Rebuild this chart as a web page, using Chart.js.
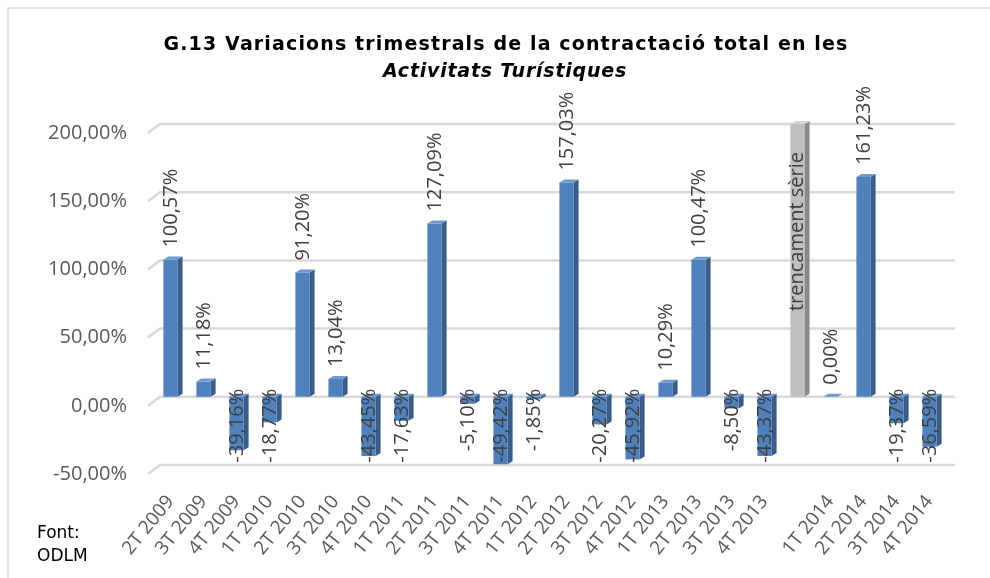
<!DOCTYPE html>
<html>
<head>
<meta charset="utf-8">
<script src="https://cdn.jsdelivr.net/npm/chart.js@4"></script>
<style>
  html, body { margin: 0; padding: 0; background: #fff; }
</style>
</head>
<body>
<canvas id="myChart" width="990" height="578"></canvas>
<script>
const trimestres = ['2T 2009', '3T 2009', '4T 2009', '1T 2010', '2T 2010', '3T 2010', '4T 2010',
  '1T 2011', '2T 2011', '3T 2011', '4T 2011', '1T 2012', '2T 2012', '3T 2012', '4T 2012',
  '1T 2013', '2T 2013', '3T 2013', '4T 2013', '', '1T 2014', '2T 2014', '3T 2014', '4T 2014'];
const variacions = [100.57, 11.18, -39.16, -18.77, 91.20, 13.04, -43.45,
  -17.63, 127.09, -5.10, -49.42, -1.85, 157.03, -20.27, -45.92,
  10.29, 100.47, -8.50, -43.37, null, 0.00, 161.23, -19.37, -36.59];
const trencament = [null, null, null, null, null, null, null, null, null, null, null, null,
  null, null, null, null, null, null, null, 200, null, null, null, null];
const textTrencament = 'trencament sèrie';
const yTicks = [-50, 0, 50, 100, 150, 200];

const fmt = v => v.toFixed(2).replace('.', ',') + '%';

// ajusta l'espaiat perque el text ocupi una amplada donada
function fitText(c, txt, x, y, w) {
  c.letterSpacing = '0px';
  const m = c.measureText(txt).width;
  c.letterSpacing = ((w - m) / txt.length).toFixed(2) + 'px';
  c.fillText(txt, x, y);
  c.letterSpacing = '0px';
}

// faces laterals i superiors per fer l'efecte 3D
const barres3d = {
  id: 'barres3d',
  beforeDatasetsDraw(chart) {
    const c = chart.ctx, a = chart.chartArea, y = chart.scales.y;
    c.save();
    c.strokeStyle = '#d9d9d9';
    c.lineWidth = 2.5;
    yTicks.forEach(t => {
      const py = y.getPixelForValue(t);
      c.beginPath();
      c.moveTo(a.left - 6, py + 9);
      c.lineTo(a.left + 6, py);
      c.lineTo(a.right + 9, py);
      c.stroke();
    });
    c.restore();
  },
  afterDatasetsDraw(chart) {
    const c = chart.ctx;
    const colors = [['#385d8a', '#6f98cf'], ['#8a8a8a', '#d6d6d6']];
    chart.data.datasets.forEach((ds, di) => {
      chart.getDatasetMeta(di).data.forEach((bar, i) => {
        if (ds.data[i] === null) return;
        const p = bar.getProps(['x', 'y', 'base', 'width'], true);
        const l = p.x - p.width / 2, r = p.x + p.width / 2;
        const top = Math.min(p.y, p.base), bot = Math.max(p.y, p.base);
        const dx = 5, dy = -3;
        c.save();
        c.fillStyle = colors[di][0];
        c.beginPath();
        c.moveTo(r, top); c.lineTo(r + dx, top + dy); c.lineTo(r + dx, bot + dy); c.lineTo(r, bot);
        c.closePath(); c.fill();
        c.fillStyle = colors[di][1];
        c.beginPath();
        c.moveTo(l, top); c.lineTo(l + dx, top + dy); c.lineTo(r + dx, top + dy); c.lineTo(r, top);
        c.closePath(); c.fill();
        c.restore();
      });
    });
  },
  afterDraw(chart) {
    const c = chart.ctx, y = chart.scales.y;
    const zero = y.getPixelForValue(0);
    c.save();
    // etiquetes de dades
    c.font = '20px "Open Sans"';
    c.fillStyle = '#404040';
    c.textBaseline = 'middle';
    chart.getDatasetMeta(0).data.forEach((bar, i) => {
      const v = variacions[i];
      if (v === null) return;
      c.save();
      if (v >= 0) {
        c.translate(bar.x + 1, bar.y - 12);
        c.rotate(-Math.PI / 2);
        c.textAlign = 'left';
      } else {
        c.translate(bar.x + 1, zero - 8);
        c.rotate(-Math.PI / 2);
        c.textAlign = 'right';
      }
      c.fillText(fmt(v), 0, 0);
      c.restore();
    });
    chart.getDatasetMeta(1).data.forEach((bar, i) => {
      if (trencament[i] === null) return;
      c.save();
      c.translate(bar.x, bar.y + 28);
      c.rotate(-Math.PI / 2);
      c.textAlign = 'right';
      c.fillText(textTrencament, 0, 0);
      c.restore();
    });
    // titol
    c.fillStyle = '#000';
    c.textAlign = 'center';
    c.textBaseline = 'alphabetic';
    c.font = 'bold 19px "DejaVu Sans"';
    fitText(c, 'G.13 Variacions trimestrals de la contractació total en les', 506, 50, 685);
    c.font = 'italic bold 19px "DejaVu Sans"';
    fitText(c, 'Activitats Turístiques', 505, 77, 244);
    // font
    c.textAlign = 'left';
    c.font = '17px "DejaVu Sans"';
    c.fillText('Font:', 37, 538);
    c.fillText('ODLM', 37, 561);
    // marc
    c.strokeStyle = '#d9d9d9';
    c.lineWidth = 1.5;
    c.beginPath();
    c.moveTo(8, 578); c.lineTo(8, 8); c.lineTo(990, 8);
    c.stroke();
    c.restore();
  }
};

new Chart(document.getElementById('myChart'), {
  type: 'bar',
  data: {
    labels: trimestres,
    datasets: [{
      data: variacions,
      backgroundColor: '#4f81bd',
      grouped: false,
      barPercentage: 0.43,
      categoryPercentage: 1
    }, {
      data: trencament,
      backgroundColor: '#bfbfbf',
      grouped: false,
      barPercentage: 0.43,
      categoryPercentage: 1
    }]
  },
  plugins: [barres3d],
  options: {
    responsive: false,
    animation: false,
    devicePixelRatio: 1,
    layout: { padding: { top: 124, right: 44, left: 0, bottom: 0 } },
    plugins: {
      legend: { display: false },
      tooltip: { enabled: false }
    },
    scales: {
      x: {
        grid: { display: false },
        border: { display: false },
        afterFit(scale) { scale.height = 113; },
        ticks: {
          autoSkip: false,
          minRotation: 51,
          maxRotation: 51,
          padding: 18,
          color: '#595959',
          font: { family: 'Open Sans', size: 19 }
        }
      },
      y: {
        min: -50,
        max: 200,
        afterFit(scale) { scale.width = 154; },
        afterBuildTicks(scale) { scale.ticks = yTicks.map(v => ({ value: v })); },
        grid: { display: false, drawTicks: false },
        border: { display: false },
        ticks: {
          padding: 27,
          labelOffset: 9,
          color: '#595959',
          font: { family: 'Open Sans', size: 20 },
          callback: v => fmt(v)
        }
      }
    }
  }
});
</script>
</body>
</html>
